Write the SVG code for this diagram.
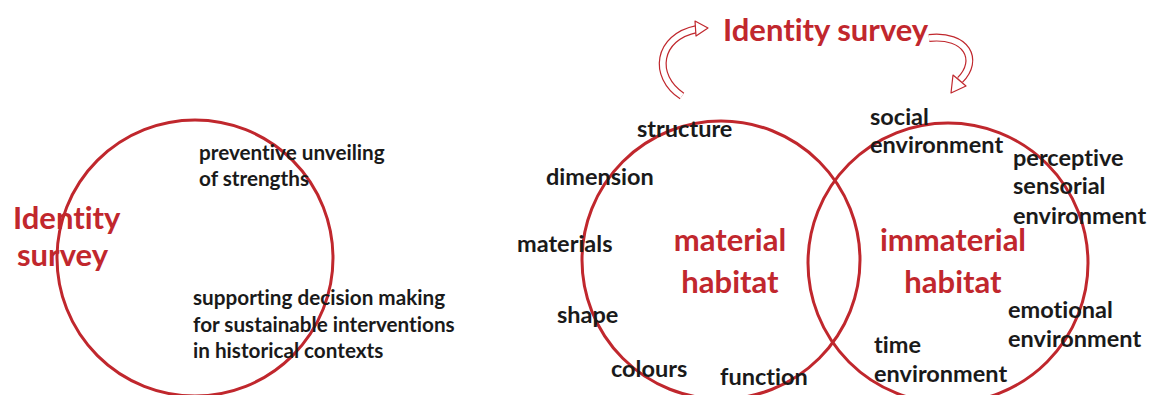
<svg xmlns="http://www.w3.org/2000/svg" width="1152" height="395" viewBox="0 0 1152 395">
<style>
.c{fill:none;stroke:#c0272d;stroke-width:3}
text{font-family:Lato,"Liberation Sans",sans-serif;font-weight:bold;font-variant-ligatures:none}
.t{font-size:20.7px;fill:#1a1a1a}
.u{font-size:23.5px;fill:#1a1a1a}
.r{font-size:31px;fill:#c1272d}
.ao{fill:none;stroke:#c0272d;stroke-width:8}
.ai{fill:none;stroke:#fff;stroke-width:5.6}
.ah{fill:#fff;stroke:#c0272d;stroke-width:1.2;stroke-linejoin:round}
</style>
<rect width="1152" height="395" fill="#fff"/>
<g id="connectors">
<path class="ao" d="M682 96 C652 76 657 37 697 29"/>
<path class="ai" d="M682 96 C652 76 657 37 697 29"/>
<polygon class="ah" points="695,21 708,28 696,36"/>
<path class="ao" d="M929 38 C967 34 980 60 960 80"/>
<path class="ai" d="M929 38 C967 34 980 60 960 80"/>
<polygon class="ah" points="953,75 966,86 951,93"/>
</g>
<g id="left-circle"><circle class="c" cx="195" cy="258" r="138"/></g>
<g id="material-circle"><circle class="c" cx="721" cy="260" r="139"/></g>
<g id="immaterial-circle"><circle class="c" cx="948" cy="263" r="140"/></g>
<g id="left-title">
<text class="r" x="13" y="229" font-size="30">Identity</text>
<text class="r" x="17" y="266" font-size="30">survey</text>
</g>
<g id="left-texts">
<text class="t" x="199" y="160">preventive unveiling</text>
<text class="t" x="199" y="186">of strengths</text>
<text class="t" x="193" y="305">supporting decision making</text>
<text class="t" x="193" y="332">for sustainable interventions</text>
<text class="t" x="193" y="358">in historical contexts</text>
</g>
<g id="top-title"><text class="r" x="723" y="41">Identity survey</text></g>
<g id="material">
<text class="r" x="730" y="251" text-anchor="middle" font-size="32">material</text>
<text class="r" x="730" y="293" text-anchor="middle" font-size="32">habitat</text>
<text class="u" x="637" y="137">structure</text>
<text class="u" x="546" y="185">dimension</text>
<text class="u" x="517" y="252">materials</text>
<text class="u" x="557" y="323">shape</text>
<text class="u" x="611" y="377">colours</text>
<text class="u" x="720" y="385">function</text>
</g>
<g id="immaterial">
<text class="r" x="953" y="251" text-anchor="middle" font-size="32">immaterial</text>
<text class="r" x="953" y="293" text-anchor="middle" font-size="32">habitat</text>
<text class="u" x="870" y="125">social</text>
<text class="u" x="870" y="153">environment</text>
<text class="u" x="1013" y="166">perceptive</text>
<text class="u" x="1013" y="194">sensorial</text>
<text class="u" x="1013" y="224">environment</text>
<text class="u" x="1008" y="318">emotional</text>
<text class="u" x="1008" y="347">environment</text>
<text class="u" x="874" y="353">time</text>
<text class="u" x="874" y="382">environment</text>
</g>
</svg>
